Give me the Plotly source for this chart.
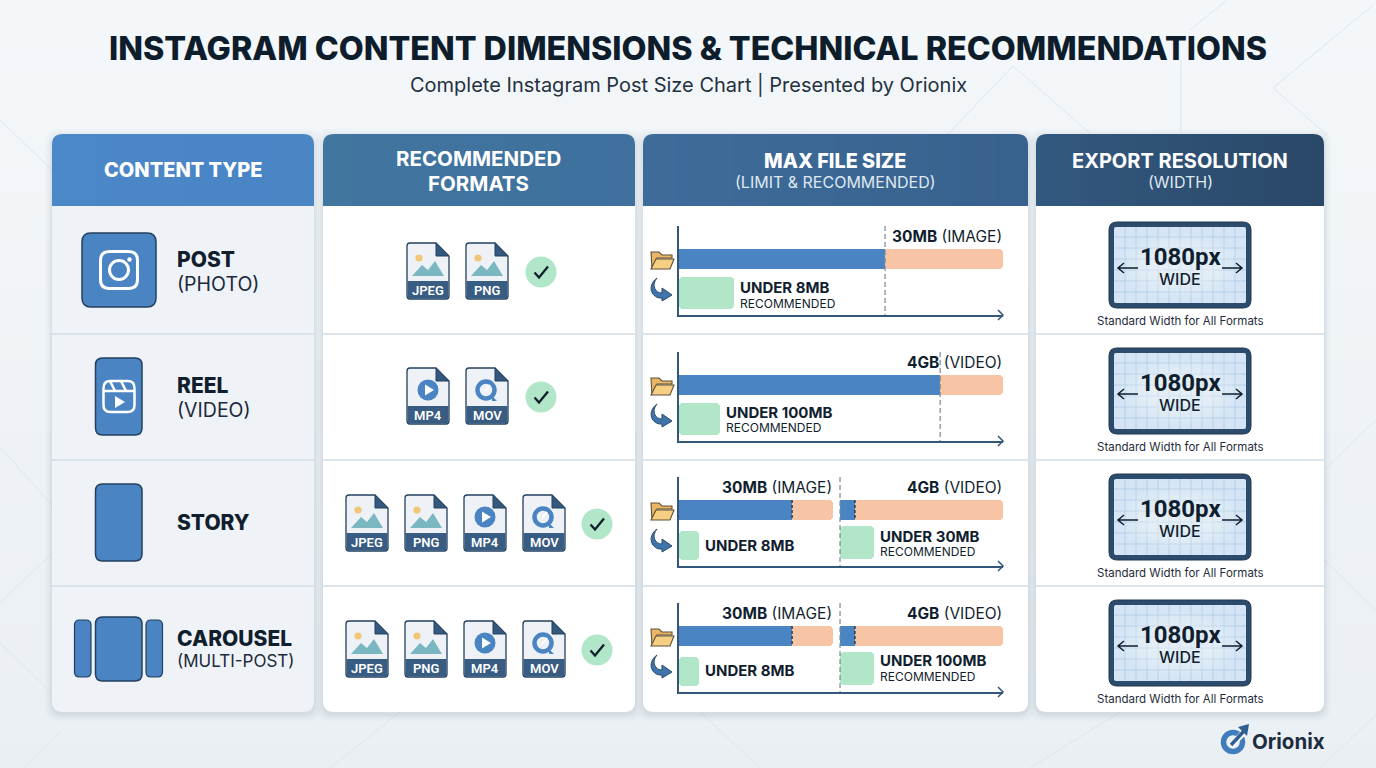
import math
import plotly.graph_objects as go

W = 1376
H = 768

# Table text
title = "INSTAGRAM CONTENT DIMENSIONS &amp; TECHNICAL RECOMMENDATIONS"
subtitle = "Complete Instagram Post Size Chart | Presented by Orionix"
content_types = ["POST", "REEL", "STORY", "CAROUSEL"]
content_notes = ["(PHOTO)", "(VIDEO)", "", "(MULTI-POST)"]
row_formats = [
    ["JPEG", "PNG"],
    ["MP4", "MOV"],
    ["JPEG", "PNG", "MP4", "MOV"],
    ["JPEG", "PNG", "MP4", "MOV"],
]

# File size bars in percent of the axis width.
# Each row has one part, or two parts when image and video are both shown.
part_starts = [[0], [0], [0, 49.7], [0, 49.7]]
limit_marks = [[63.6], [80.6], [34.9, 54.3], [34.9, 54.3]]
bar_ends = [[100], [100], [47.5, 100], [47.5, 100]]
under_ends = [[17], [12.7], [6.2, 60.2], [6.2, 60.2]]
limit_labels = [["30MB|(IMAGE)"], ["4GB|(VIDEO)"], ["30MB|(IMAGE)", "4GB|(VIDEO)"], ["30MB|(IMAGE)", "4GB|(VIDEO)"]]
under_labels = [["UNDER 8MB"], ["UNDER 100MB"], ["UNDER 8MB", "UNDER 30MB"], ["UNDER 8MB", "UNDER 100MB"]]
under_notes = [["RECOMMENDED"], ["RECOMMENDED"], ["", "RECOMMENDED"], ["", "RECOMMENDED"]]

export_width = "1080px"
export_note = "WIDE"
export_caption = "Standard Width for All Formats"

# Colours
NAVY = "#101e2e"
BLUE = "#4a84c3"
EDGE = "#22405f"
DARK = "#34587e"
PEACH = "#f8c4a6"
GREEN = "#b2e6c8"
AXIS = "#34567a"
LINE = "#d3dce5"

# Page layout in pixels
ROW_TOPS = [206, 334, 460, 586]
COLS = [(52, 314), (323, 635), (643, 1028), (1036, 1324)]
HEAD_COLOURS = [
    ("#4b88c8", "#4a85c4"),
    ("#41769f", "#3f709e"),
    ("#3e6c9a", "#38618d"),
    ("#33587f", "#2a4868"),
]
AXIS_TOPS = [226, 352, 477, 603]
PLOT_X0 = 679
PLOT_X1 = 1003
PLOT_H = 89
LANE = 34.0  # pixels between the limit lane and the recommended lane
UNDER_LABEL_Y = [61, 60, 59, 57]
UNDER_NOTE_Y = [77, 75, 74, 73]
UNDER_SINGLE_Y = [68, 68, 68, 67]

shapes = []
notes = []


def add(path, fill=None, line=None, width=1, opacity=1):
    shapes.append(dict(
        type="path", path=path, xref="x", yref="y", layer="below", opacity=opacity,
        fillcolor=fill or "rgba(0,0,0,0)",
        line=dict(color=line or "rgba(0,0,0,0)", width=width if line else 0),
    ))


def add_circle(cx, cy, rx, ry=None, fill=None, line=None, width=1, opacity=1):
    ry = ry or rx
    shapes.append(dict(
        type="circle", x0=cx - rx, x1=cx + rx, y0=cy - ry, y1=cy + ry,
        xref="x", yref="y", layer="below", opacity=opacity,
        fillcolor=fill or "rgba(0,0,0,0)",
        line=dict(color=line or "rgba(0,0,0,0)", width=width if line else 0),
    ))


def add_rect(x0, y0, x1, y1, fill):
    shapes.append(dict(type="rect", x0=x0, x1=x1, y0=y0, y1=y1, xref="x", yref="y",
                       layer="below", fillcolor=fill, line=dict(width=0)))


def rounded(x0, y0, x1, y1, tl=0, tr=0, br=0, bl=0):
    return (f"M{x0 + tl},{y0} L{x1 - tr},{y0} Q{x1},{y0} {x1},{y0 + tr} "
            f"L{x1},{y1 - br} Q{x1},{y1} {x1 - br},{y1} L{x0 + bl},{y1} "
            f"Q{x0},{y1} {x0},{y1 - bl} L{x0},{y0 + tl} Q{x0},{y0} {x0 + tl},{y0} Z")


def box(x0, y0, x1, y1, r):
    return rounded(x0, y0, x1, y1, r, r, r, r)


def text(x, y, s, size, color=NAVY, weight=400, anchor="center", family="Inter"):
    # annotations carry a little padding, take it back for the aligned ones
    if anchor == "left":
        x -= 2
    elif anchor == "right":
        x += 2
    notes.append(dict(
        x=x, y=y, xref="x", yref="y", text=s, showarrow=False, xanchor=anchor, yanchor="middle",
        font=dict(family=family, size=size, color=color, weight=weight),
    ))


def mix(a, b, t):
    ca = [int(a[i:i + 2], 16) for i in (1, 3, 5)]
    cb = [int(b[i:i + 2], 16) for i in (1, 3, 5)]
    return "#%02x%02x%02x" % tuple(round(p + (q - p) * t) for p, q in zip(ca, cb))


def draw_background():
    step = 24
    for y in range(0, H, step):
        add_rect(0, y, W, y + step, mix("#f4f7fa", "#eaeff4", y / H))
    faint = [
        "M947,135 L1013,66 L1092,135", "M1181,60 L1181,135", "M1190,30 L1227,0",
        "M1373,5 L1273,88 L1327,135", "M0,447 L52,505", "M0,603 L52,553", "M0,643 L52,693",
        "M60,732 L23,768", "M1376,420 L1324,470", "M1324,560 L1376,610", "M1320,768 L1376,715",
        "M1030,768 L1120,712", "M330,768 L400,712", "M700,712 L760,768", "M0,120 L52,170",
    ]
    for seg in faint:
        add(seg, line="#dfe5ec", width=1)


def draw_card(col):
    x0, x1 = COLS[col]
    for grow, alpha in [(7, 0.025), (5, 0.03), (3, 0.04), (1.5, 0.06)]:
        add(box(x0 - grow, 134 - grow + 2, x1 + grow, 712 + grow + 2, 13), fill="#5b7088", opacity=alpha)
    add(rounded(x0, 206, x1, 712, 0, 0, 11, 11), fill="#eff3f8" if col == 0 else "#ffffff")
    # header: thin strips so the colour can drift from left to right, corners stay flat
    r = 11
    left, right = HEAD_COLOURS[col]
    mid = (x0 + x1) // 2
    add(rounded(x0, 134, mid, 206, r, 0, 0, 0), fill=left)
    add(rounded(mid, 134, x1, 206, 0, r, 0, 0), fill=right)
    for x in range(x0 + r, x1 - r, 2):
        add_rect(x, 134, min(x + 2, x1 - r), 206, mix(left, right, (x - x0) / (x1 - x0)))
    for y in ROW_TOPS[1:]:
        add(f"M{x0},{y} L{x1},{y}", line=LINE, width=1.5)


def draw_post_icon():
    add(box(82, 233, 156, 307, 9), fill=BLUE, line=EDGE, width=1.5)
    add(box(100.5, 251.5, 137.5, 288.5, 9), line="#ffffff", width=3)
    add_circle(119, 270, 9.5, line="#ffffff", width=3)
    add_circle(129.5, 259.5, 2.2, fill="#ffffff")


def draw_reel_icon():
    add(box(95.5, 358, 142, 435, 7), fill=BLUE, line=EDGE, width=1.5)
    add(box(103.5, 381, 134.5, 412, 7), line="#ffffff", width=2.5)
    add("M103.5,391 L134.5,391", line="#ffffff", width=2.5)
    add("M110,381 L115,391 M121,381 L126,391", line="#ffffff", width=2.5)
    add("M115,396 L125,402 L115,408 Z", fill="#ffffff")


def draw_story_icon():
    add(box(95.5, 484, 142, 561, 7), fill=BLUE, line=EDGE, width=1.5)


def draw_carousel_icon():
    add(rounded(74.5, 620, 91, 677, 5, 5, 5, 5), fill=BLUE, line=EDGE, width=1.2)
    add(box(95.5, 617, 142, 681, 7), fill=BLUE, line=EDGE, width=1.5)
    add(box(146, 620, 162.5, 677, 5), fill=BLUE, line=EDGE, width=1.2)


def draw_file_icon(x, y, kind):
    w, h, fold = 42, 56, 13
    add(f"M{x + 3},{y} L{x + w - fold},{y} L{x + w},{y + fold} L{x + w},{y + h - 3} "
        f"Q{x + w},{y + h} {x + w - 3},{y + h} L{x + 3},{y + h} Q{x},{y + h} {x},{y + h - 3} "
        f"L{x},{y + 3} Q{x},{y} {x + 3},{y} Z", fill="#eef2f7", line=EDGE, width=1.3)
    add(f"M{x + w - fold},{y} L{x + w},{y + fold} L{x + w - fold},{y + fold} Z", fill=DARK, line=EDGE, width=1)
    add(rounded(x + 0.5, y + h - 18, x + w - 0.5, y + h - 0.5, 0, 0, 3, 3), fill="#385c82")
    if kind in ("JPEG", "PNG"):
        add_circle(x + 12, y + 15, 3.6, fill="#f2c679")
        add(f"M{x + 5},{y + 33} L{x + 15},{y + 22} L{x + 21},{y + 27} L{x + 28},{y + 18} L{x + 37},{y + 33} Z",
            fill="#7ab7c0")
    elif kind == "MP4":
        add_circle(x + 21, y + 22, 10.5, fill=BLUE)
        add(f"M{x + 18},{y + 16.5} L{x + 27},{y + 22} L{x + 18},{y + 27.5} Z", fill="#ffffff")
    else:
        add_circle(x + 20, y + 22, 8.5, line=BLUE, width=4.5)
        add(f"M{x + 26},{y + 28} L{x + 31},{y + 33} L{x + 26},{y + 33} Z", fill=BLUE)
        add(f"M{x + 19},{y + 23} L{x + 24},{y + 17}", line="#ffffff", width=1.8)
    text(x + w / 2, y + h - 8.5, kind, 13, "#ffffff", 600, family="Roboto")


def draw_check(cx, cy):
    add_circle(cx, cy, 15.5, fill=GREEN)
    add(f"M{cx - 6.5},{cy + 0.5} L{cx - 2},{cy + 5.5} L{cx + 7},{cy - 5.5}", line=NAVY, width=2.3)


def draw_formats(row, cy):
    kinds = row_formats[row]
    step = 59
    x0 = 407 if len(kinds) == 2 else 346
    y = cy - 28
    for i, kind in enumerate(kinds):
        draw_file_icon(x0 + i * step, y, kind)
    draw_check(x0 + len(kinds) * step + (16 if len(kinds) == 2 else 15), cy + 1)


def draw_side_icons(top):
    # folder next to the limit lane, bent arrow next to the recommended lane
    y = top + 24
    add(f"M651,{y + 2} L659,{y + 2} L662,{y + 5} L672,{y + 5} L672,{y + 8} L657,{y + 8} L652,{y + 19} Z",
        fill="#e9b566", line="#5e5138", width=1.1)
    add(f"M656,{y + 9} L674,{y + 9} L670,{y + 19} L651,{y + 19} Z", fill="#f7cf83", line="#5e5138", width=1.1)
    y = top + 52
    add(f"M657,{y} C651,{y + 7} 655,{y + 15} 662,{y + 15} L662,{y + 10} L672,{y + 17} L662,{y + 23} "
        f"L662,{y + 20} C652,{y + 21} 646,{y + 8} 657,{y} Z", fill="#3f74ad", line="#2b4a6c", width=1)


def draw_monitor(y):
    x0, x1, y1 = 1109, 1251, y + 86
    add(box(x0, y, x1, y1, 8), fill="#2c4b6d", line="#20384f", width=1)
    ix0, iy0, ix1, iy1 = x0 + 5, y + 5, x1 - 5, y1 - 5
    add(box(ix0, iy0, ix1, iy1, 2), fill="#d5e5f5")
    grid = ""
    for gx in range(ix0 + 11, ix1, 11):
        grid += f"M{gx},{iy0} L{gx},{iy1} "
    for gy in range(iy0 + 10, iy1, 11):
        grid += f"M{ix0},{gy} L{ix1},{gy} "
    add(grid, line="#b4cfe9", width=1)
    cx, cy = (x0 + x1) / 2, y + 44
    for rx, ry in [(60, 33), (54, 29), (48, 26), (42, 22), (36, 19), (30, 15)]:
        add_circle(cx, cy, rx, ry, fill="#ffffff", opacity=0.09)
    add(f"M{cx - 42},{y + 46} L{cx - 62},{y + 46} M{cx - 56},{y + 41} L{cx - 62},{y + 46} L{cx - 56},{y + 51}",
        line=NAVY, width=1.5)
    add(f"M{cx + 42},{y + 46} L{cx + 62},{y + 46} M{cx + 56},{y + 41} L{cx + 62},{y + 46} L{cx + 56},{y + 51}",
        line=NAVY, width=1.5)
    text(cx, y + 35, export_width, 24, NAVY, 700, family="Roboto")
    text(cx, y + 57, export_note, 16, NAVY, 500)
    text(cx, y + 98.5, export_caption, 11.5, "#1e2c3c", 400)


def draw_logo():
    add_circle(1233, 742, 9.5, line="#3f7dbd", width=5.5)
    add("M1231,746 L1246,730", line="#ffffff", width=6)
    add("M1231,745 L1244,731", line="#2f5f91", width=3.5)
    add("M1238,727 L1249,724 L1247,736 Z", fill="#2f5f91")
    text(1252, 741, "Orionix", 20.5, "#1c2d40", 700, "left")


def add_size_chart(fig, row):
    n = row + 2
    top = AXIS_TOPS[row]
    xname, yname = f"xaxis{n}", f"yaxis{n}"
    fig.layout[xname] = dict(
        domain=[PLOT_X0 / W, PLOT_X1 / W], range=[0, 100], anchor=f"y{n}", fixedrange=True,
        showgrid=False, zeroline=False, showticklabels=False, ticks="",
        showline=True, linecolor=AXIS, linewidth=1.5,
    )
    # one unit on this axis is the distance between the two lanes
    fig.layout[yname] = dict(
        domain=[1 - (top + PLOT_H) / H, 1 - top / H],
        range=[(PLOT_H - 33) / LANE, -33 / LANE], anchor=f"x{n}", fixedrange=True,
        showgrid=False, zeroline=False, showticklabels=False, ticks="",
        showline=True, linecolor=AXIS, linewidth=1.5,
    )
    bottom = top + PLOT_H
    add(f"M{PLOT_X1 - 5},{bottom - 5} L{PLOT_X1},{bottom} L{PLOT_X1 - 5},{bottom + 5}", line=AXIS, width=1.5)
    draw_side_icons(top)

    two_parts = len(part_starts[row]) == 2
    for i, start in enumerate(part_starts[row]):
        xa, ya = f"x{n}", f"y{n}"
        fig.add_trace(go.Bar(
            y=[0], x=[bar_ends[row][i] - start], base=[start], orientation="h", width=20 / LANE,
            marker=dict(color=PEACH, cornerradius=4, line=dict(width=0)),
            xaxis=xa, yaxis=ya, hoverinfo="skip", showlegend=False,
        ))
        fig.add_trace(go.Bar(
            y=[0], x=[limit_marks[row][i] - start], base=[start], orientation="h", width=20 / LANE,
            marker=dict(color=BLUE, line=dict(width=0)),
            xaxis=xa, yaxis=ya, hoverinfo="skip", showlegend=False,
        ))
        if two_parts:
            lane, height = (1.04, 29) if i == 0 else (0.95, 33)
        else:
            lane, height = 1, 32
        fig.add_trace(go.Bar(
            y=[lane], x=[under_ends[row][i] - start], base=[start], orientation="h", width=height / LANE,
            marker=dict(color=GREEN, cornerradius=4, line=dict(width=0)),
            xaxis=xa, yaxis=ya, hoverinfo="skip", showlegend=False,
        ))
        # dashed marks at the limit, and the divider between the two parts
        if two_parts:
            fig.add_trace(go.Scatter(
                x=[limit_marks[row][i]] * 2, y=[-10 / LANE, 10 / LANE], mode="lines",
                line=dict(color="#2c3e50", width=1.5, dash="3px,2px"),
                xaxis=xa, yaxis=ya, hoverinfo="skip", showlegend=False,
            ))
        else:
            fig.add_trace(go.Scatter(
                x=[limit_marks[row][i]] * 2, y=[-33 / LANE, (PLOT_H - 33) / LANE], mode="lines",
                line=dict(color="#7a8896", width=1.2, dash="5px,3px"),
                xaxis=xa, yaxis=ya, hoverinfo="skip", showlegend=False,
            ))
        if two_parts and i == 1:
            fig.add_trace(go.Scatter(
                x=[start, start], y=[-33 / LANE, (PLOT_H - 33) / LANE], mode="lines",
                line=dict(color="#7a8896", width=1.2, dash="5px,3px"),
                xaxis=xa, yaxis=ya, hoverinfo="skip", showlegend=False,
            ))

        # labels
        to_px = lambda v: PLOT_X0 + v * (PLOT_X1 - PLOT_X0) / 100
        strong, rest = limit_labels[row][i].split("|")
        label_right = to_px(bar_ends[row][i]) - 1
        text(label_right, top + 10, f"<b>{strong}</b> {rest}", 15.5, NAVY, 400, "right")
        lx = to_px(under_ends[row][i]) + 6
        if under_notes[row][i]:
            text(lx, top + UNDER_LABEL_Y[row], under_labels[row][i], 15, NAVY, 700, "left")
            text(lx, top + UNDER_NOTE_Y[row], under_notes[row][i], 12, NAVY, 400, "left")
        else:
            text(lx, top + UNDER_SINGLE_Y[row], under_labels[row][i], 15, NAVY, 700, "left")


fig = go.Figure()

draw_background()
for c in range(4):
    draw_card(c)

text(688, 48, title, 32.3, "#0e1d2c", 800)
text(688, 85, subtitle, 20, "#24313f", 400)

text(183, 170, "CONTENT TYPE", 20, "#ffffff", 800)
text(478, 158, "RECOMMENDED", 20.5, "#ffffff", 700)
text(478, 183, "FORMATS", 20.5, "#ffffff", 700)
text(835, 161, "MAX FILE SIZE", 19.8, "#ffffff", 800)
text(835, 182, "(LIMIT &amp; RECOMMENDED)", 16, "#dfe8f1", 400)
text(1180, 161, "EXPORT RESOLUTION", 20, "#ffffff", 700)
text(1180, 182, "(WIDTH)", 16, "#dfe8f1", 400)

draw_post_icon()
draw_reel_icon()
draw_story_icon()
draw_carousel_icon()

name_y = [259, 385, 522, 638]
note_y = [284, 410, 522, 661]
for r in range(4):
    text(177, name_y[r], content_types[r], 21, NAVY, 800, "left")
    if content_notes[r]:
        text(177, note_y[r], content_notes[r], 19.5 if r < 3 else 17, "#1c2a3a", 400, "left")
    draw_formats(r, [271, 396, 523, 649][r])
    add_size_chart(fig, r)
    draw_monitor([222, 348, 474, 600][r])

draw_logo()

fig.update_layout(
    width=W, height=H, autosize=False,
    margin=dict(l=0, r=0, t=0, b=0, pad=0),
    paper_bgcolor="#f2f5f9", plot_bgcolor="rgba(0,0,0,0)",
    barmode="overlay", bargap=0, showlegend=False,
    xaxis=dict(domain=[0, 1], range=[0, W], visible=False, fixedrange=True),
    yaxis=dict(domain=[0, 1], range=[H, 0], visible=False, fixedrange=True),
    shapes=shapes, annotations=notes,
)

fig.write_html("out.html", config=dict(displayModeBar=False),
               post_script="document.body.style.margin='0';document.body.style.overflow='hidden';")
